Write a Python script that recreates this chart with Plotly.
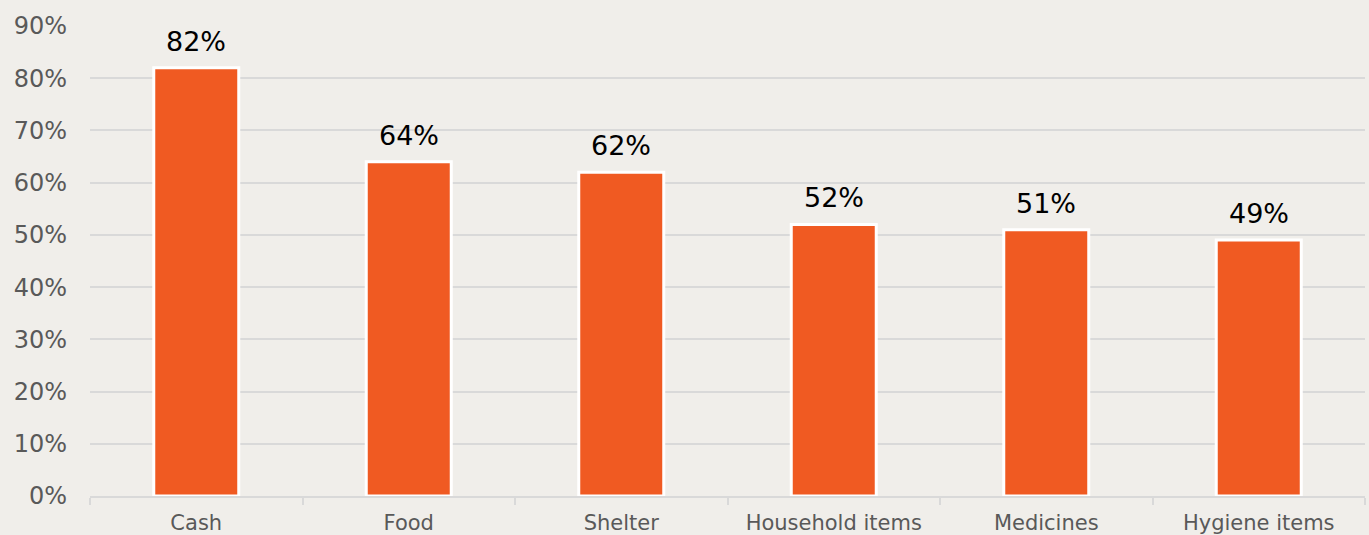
import plotly.graph_objects as go

categories = ["Cash", "Food", "Shelter", "Household items", "Medicines", "Hygiene items"]
values = [82, 64, 62, 52, 51, 49]
tick_vals = [0, 10, 20, 30, 40, 50, 60, 70, 80, 90]
tick_text = [f"{v}%" for v in tick_vals]
value_labels = [f"{v}%" for v in values]

fig = go.Figure(go.Bar(
    x=categories, y=values,
    marker=dict(color="#F05A22", line=dict(color="white", width=3)),
    width=0.4,
    cliponaxis=False,
))
for c, v, t in zip(categories, values, value_labels):
    fig.add_annotation(
        x=c, y=v, text=t, showarrow=False, yanchor="bottom", yshift=9,
        font=dict(family="DejaVu Sans", size=27, color="black"),
    )
fig.update_layout(
    width=1369, height=535,
    margin=dict(l=90, r=4, t=26, b=39, autoexpand=False),
    paper_bgcolor="#F0EEEA", plot_bgcolor="#F0EEEA",
    showlegend=False,
    font=dict(family="DejaVu Sans", color="#595959"),
)
fig.update_xaxes(
    tickson="boundaries", ticks="outside", ticklen=7, tickcolor="#D9D9D9", tickwidth=2,
    showline=True, linecolor="#D9D9D9", linewidth=2, automargin=False,
    tickfont=dict(size=21, color="#595959"), showgrid=False, ticklabelstandoff=7,
)
fig.update_yaxes(
    range=[0, 90], tickvals=tick_vals, ticktext=tick_text, automargin=False,
    showgrid=True, gridcolor="#D9D9D9", gridwidth=2, zeroline=False,
    tickfont=dict(size=24, color="#595959"), ticklabelstandoff=22,
)
fig.write_html("out.html", config={"displayModeBar": False},
               post_script="document.body.style.margin='0';")
